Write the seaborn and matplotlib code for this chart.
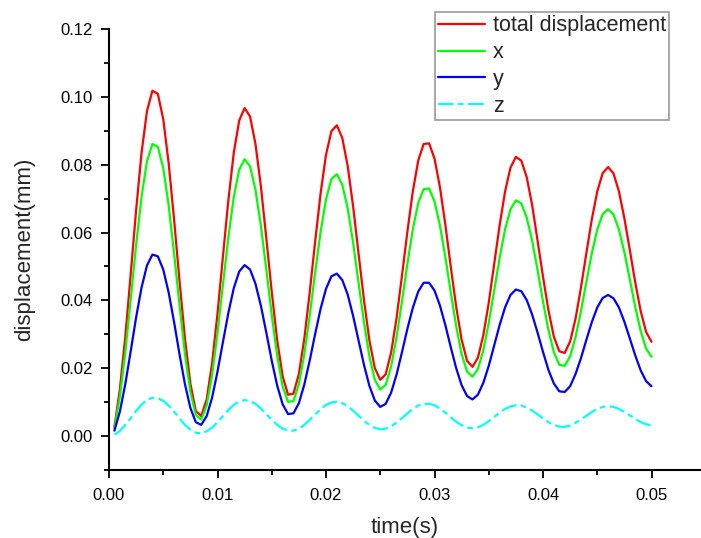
import numpy as np
import pandas as pd
import matplotlib
matplotlib.use("Agg")
import matplotlib.pyplot as plt
from matplotlib.ticker import MultipleLocator, FormatStrFormatter
import seaborn as sns

time_s = [round(0.0005 * i, 4) for i in range(1, 101)]

total_disp = [
    0.0027, 0.0138, 0.0292, 0.0477, 0.0666, 0.0835, 0.0958, 0.1018, 0.1009, 0.0934,
    0.0804, 0.0638, 0.0457, 0.0288, 0.0155, 0.0074, 0.0059, 0.0108, 0.0214, 0.0361,
    0.0529, 0.0695, 0.0835, 0.0930, 0.0967, 0.0942, 0.0861, 0.0736, 0.0583, 0.0425,
    0.0283, 0.0177, 0.0122, 0.0125, 0.0183, 0.0287, 0.0424, 0.0573, 0.0715, 0.0829,
    0.0899, 0.0916, 0.0879, 0.0796, 0.0677, 0.0538, 0.0401, 0.0282, 0.0200, 0.0166,
    0.0182, 0.0246, 0.0347, 0.0472, 0.0602, 0.0721, 0.0812, 0.0861, 0.0863, 0.0818,
    0.0734, 0.0623, 0.0499, 0.0381, 0.0284, 0.0222, 0.0204, 0.0231, 0.0297, 0.0393,
    0.0507, 0.0621, 0.0720, 0.0791, 0.0823, 0.0812, 0.0763, 0.0681, 0.0576, 0.0470,
    0.0371, 0.0293, 0.0250, 0.0245, 0.0279, 0.0346, 0.0438, 0.0540, 0.0639, 0.0721,
    0.0775, 0.0793, 0.0774, 0.0721, 0.0642, 0.0549, 0.0453, 0.0369, 0.0307, 0.0278,
]

x_disp = [
    0.0022, 0.0116, 0.0247, 0.0403, 0.0564, 0.0706, 0.0810, 0.0861, 0.0853, 0.0790,
    0.0680, 0.0539, 0.0386, 0.0243, 0.0130, 0.0062, 0.0049, 0.0090, 0.0180, 0.0304,
    0.0446, 0.0586, 0.0705, 0.0785, 0.0816, 0.0795, 0.0726, 0.0620, 0.0491, 0.0357,
    0.0237, 0.0147, 0.0101, 0.0103, 0.0153, 0.0241, 0.0356, 0.0483, 0.0602, 0.0698,
    0.0758, 0.0772, 0.0741, 0.0671, 0.0570, 0.0452, 0.0336, 0.0235, 0.0166, 0.0137,
    0.0151, 0.0205, 0.0291, 0.0397, 0.0508, 0.0609, 0.0687, 0.0728, 0.0730, 0.0692,
    0.0621, 0.0528, 0.0424, 0.0324, 0.0242, 0.0190, 0.0175, 0.0198, 0.0253, 0.0334,
    0.0429, 0.0525, 0.0609, 0.0668, 0.0695, 0.0686, 0.0644, 0.0576, 0.0489, 0.0397,
    0.0313, 0.0247, 0.0210, 0.0207, 0.0235, 0.0292, 0.0369, 0.0455, 0.0539, 0.0609,
    0.0654, 0.0669, 0.0653, 0.0608, 0.0542, 0.0462, 0.0381, 0.0310, 0.0258, 0.0234,
]

y_disp = [
    0.0016, 0.0072, 0.0153, 0.0250, 0.0350, 0.0438, 0.0503, 0.0535, 0.0530, 0.0491,
    0.0423, 0.0336, 0.0241, 0.0153, 0.0083, 0.0041, 0.0033, 0.0059, 0.0113, 0.0190,
    0.0277, 0.0363, 0.0436, 0.0485, 0.0504, 0.0491, 0.0449, 0.0384, 0.0305, 0.0222,
    0.0149, 0.0094, 0.0065, 0.0067, 0.0097, 0.0152, 0.0223, 0.0301, 0.0375, 0.0434,
    0.0471, 0.0479, 0.0460, 0.0417, 0.0354, 0.0282, 0.0210, 0.0148, 0.0105, 0.0086,
    0.0095, 0.0128, 0.0181, 0.0247, 0.0316, 0.0378, 0.0426, 0.0452, 0.0452, 0.0429,
    0.0385, 0.0327, 0.0262, 0.0200, 0.0150, 0.0118, 0.0108, 0.0122, 0.0157, 0.0207,
    0.0267, 0.0327, 0.0379, 0.0416, 0.0432, 0.0427, 0.0401, 0.0358, 0.0305, 0.0248,
    0.0195, 0.0155, 0.0132, 0.0130, 0.0147, 0.0183, 0.0230, 0.0284, 0.0336, 0.0379,
    0.0407, 0.0416, 0.0406, 0.0379, 0.0337, 0.0288, 0.0238, 0.0194, 0.0162, 0.0147,
]

z_disp = [
    0.0004, 0.0015, 0.0033, 0.0053, 0.0074, 0.0093, 0.0107, 0.0113, 0.0112, 0.0104,
    0.0090, 0.0072, 0.0052, 0.0033, 0.0019, 0.0010, 0.0008, 0.0014, 0.0025, 0.0041,
    0.0059, 0.0077, 0.0092, 0.0102, 0.0106, 0.0103, 0.0095, 0.0081, 0.0065, 0.0048,
    0.0033, 0.0022, 0.0016, 0.0016, 0.0022, 0.0033, 0.0048, 0.0064, 0.0079, 0.0092,
    0.0099, 0.0101, 0.0097, 0.0088, 0.0075, 0.0060, 0.0045, 0.0033, 0.0024, 0.0020,
    0.0022, 0.0029, 0.0040, 0.0053, 0.0067, 0.0080, 0.0090, 0.0095, 0.0095, 0.0091,
    0.0081, 0.0069, 0.0055, 0.0042, 0.0032, 0.0025, 0.0023, 0.0026, 0.0033, 0.0044,
    0.0056, 0.0069, 0.0080, 0.0087, 0.0091, 0.0090, 0.0084, 0.0075, 0.0064, 0.0052,
    0.0041, 0.0033, 0.0028, 0.0027, 0.0031, 0.0039, 0.0049, 0.0060, 0.0071, 0.0080,
    0.0086, 0.0088, 0.0086, 0.0080, 0.0071, 0.0061, 0.0051, 0.0041, 0.0035, 0.0031,
]

series_names = ["total displacement", "x", "y", "z"]
series_colors = ["#FF0000", "#00FF00", "#0000FF", "#00FFFF"]

sns.set_style("ticks")
plt.rcParams["font.family"] = ["Liberation Sans", "DejaVu Sans"]

fig = plt.figure(figsize=(7.01, 5.38), dpi=100)
ax = fig.add_axes([109 / 701, (538 - 470) / 538, (701 - 109) / 701, (470 - 29) / 538])

series_vals = [total_disp, x_disp, y_disp, z_disp]
for name, vals, col in zip(series_names, series_vals, series_colors):
    df = pd.DataFrame({"t": time_s, "v": vals})
    ls = (0, (7, 2, 2.5, 2)) if name == "z" else "-"
    sns.lineplot(data=df, x="t", y="v", ax=ax, color=col, linewidth=1.6,
                 linestyle=ls, label=name)

ax.set_xlim(0, (701 - 109) / 10850)
ax.set_ylim(-0.01, 0.12)
ax.xaxis.set_major_locator(MultipleLocator(0.01))
ax.xaxis.set_minor_locator(MultipleLocator(0.005))
ax.yaxis.set_major_locator(MultipleLocator(0.02))
ax.yaxis.set_minor_locator(MultipleLocator(0.01))
ax.xaxis.set_major_formatter(FormatStrFormatter("%.2f"))
ax.yaxis.set_major_formatter(FormatStrFormatter("%.2f"))
ax.tick_params(axis="both", which="major", direction="out", length=6, width=1.3,
               labelsize=12, color="black", labelcolor="black")
ax.tick_params(axis="x", which="major", pad=7)
ax.tick_params(axis="y", which="major", pad=6)
ax.tick_params(axis="both", which="minor", direction="out", length=3.5, width=1.3,
               color="black")
for side in ["top", "right"]:
    ax.spines[side].set_visible(False)
for side in ["left", "bottom"]:
    ax.spines[side].set_linewidth(1.5)
    ax.spines[side].set_color("black")

ax.set_xlabel("time(s)", fontsize=16, labelpad=10)
ax.set_ylabel("displacement(mm)", fontsize=16, labelpad=18)

leg = ax.legend(loc="upper right", bbox_to_anchor=(669 / 701, 1 - 12 / 538),
                bbox_transform=fig.transFigure, fontsize=15.5, frameon=True,
                fancybox=False, edgecolor="#808080", handlelength=2.2,
                handletextpad=0.35, labelspacing=0.27, borderpad=0.15,
                borderaxespad=0)
leg.get_frame().set_linewidth(1.2)

fig.savefig("out.png", dpi=100)
